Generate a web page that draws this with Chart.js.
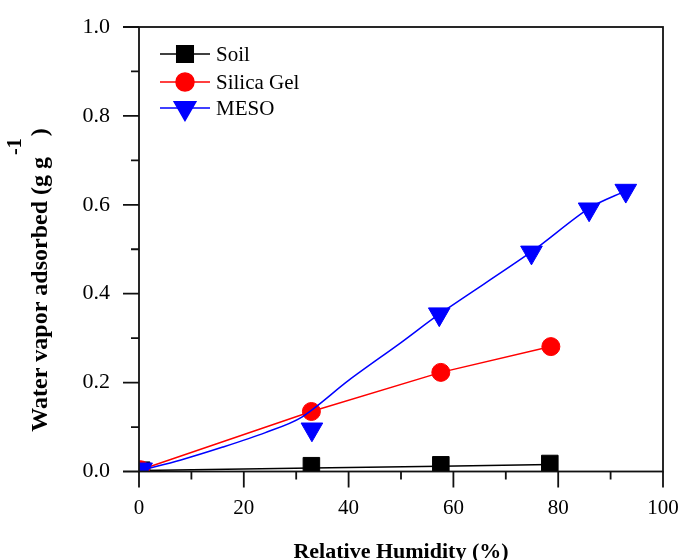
<!DOCTYPE html>
<html>
<head>
<meta charset="utf-8">
<script src="https://cdn.jsdelivr.net/npm/chart.js@4.4.1/dist/chart.umd.min.js"></script>
<style>html,body{margin:0;padding:0;background:#fff}canvas{display:block}</style>
</head>
<body>
<canvas id="c" width="679" height="560"></canvas>
<script>
/* water vapor adsorption isotherms */
const SERIF = "'Liberation Serif', 'Times New Roman', serif";

// measured points
const soilX = [0.5, 32.9, 57.6, 78.4];
const soilY = [0.003, 0.013, 0.015, 0.018];
const silicaX = [0.3, 32.9, 57.6, 78.6];
const silicaY = [0.004, 0.135, 0.223, 0.281];
const mesoX = [0.5, 33.0, 57.3, 74.9, 85.9, 92.9];
const mesoY = [0.005, 0.095, 0.354, 0.493, 0.590, 0.632];

// fitted curves
const soilFitX = [0.5, 33, 57.5, 78.5];
const soilFitY = [0.002, 0.008, 0.012, 0.016];
const silicaFitX = [0.3, 32.9, 57.6, 78.6];
const silicaFitY = [0.004, 0.135, 0.223, 0.281];
const mesoFitX = [0.5, 8, 16, 24, 31, 40, 50, 57.3, 75, 86, 93];
const mesoFitY = [0.003, 0.026, 0.055, 0.087, 0.122, 0.205, 0.29, 0.354, 0.495, 0.593, 0.632];

const xTicks = [0, 20, 40, 60, 80, 100];
const yTicks = [0.0, 0.2, 0.4, 0.6, 0.8, 1.0];

const SERIES = [
  {name:"Soil", color:"#000000", style:"rect", r:11.7, rot:0},
  {name:"Silica Gel", color:"#ff0000", style:"circle", r:9, rot:0},
  {name:"MESO", color:"#0000ff", style:"triangle", r:12.5, rot:180},
];

function pts(xs, ys){ return xs.map((x,i)=>({x, y:ys[i]})); }

function fitSet(xs, ys, s, order, tension){
  return {data:pts(xs,ys), showLine:true, borderColor:s.color, borderWidth:1.5,
    pointRadius:0, tension, order, clip:0};
}
function markSet(xs, ys, s, order){
  return {data:pts(xs,ys), showLine:false, backgroundColor:s.color, borderColor:s.color,
    borderWidth:1, pointStyle:s.style, pointRadius:s.r, pointRotation:s.rot, order, clip:0};
}
function noPad(s){ s.paddingLeft = 0; s.paddingRight = 0; s.paddingTop = 0; s.paddingBottom = 0; }

const extras = {
  id:"extras",
  afterDraw(chart){
    const ctx = chart.ctx, a = chart.chartArea;
    const xs = chart.scales.x, ys = chart.scales.y;
    ctx.save();
    ctx.strokeStyle = "#111";
    ctx.lineWidth = 1.8;
    ctx.strokeRect(a.left, a.top, a.right - a.left, a.bottom - a.top);
    // major / minor ticks
    ctx.beginPath();
    for(let v=0; v<=100; v+=10){
      const px = xs.getPixelForValue(v);
      const len = v % 20 === 0 ? 16 : 8;
      ctx.moveTo(px, a.bottom); ctx.lineTo(px, a.bottom + len);
    }
    for(let k=0; k<=10; k++){
      const py = ys.getPixelForValue(k/10);
      const len = k % 2 === 0 ? 16 : 8;
      ctx.moveTo(a.left, py); ctx.lineTo(a.left - len, py);
    }
    ctx.stroke();

    // legend
    const rows = [54, 82, 108];
    ctx.font = "21px " + SERIF;
    ctx.textBaseline = "middle";
    ctx.textAlign = "left";
    SERIES.forEach((s,i)=>{
      const y = rows[i];
      ctx.strokeStyle = s.color; ctx.lineWidth = 1.5;
      ctx.beginPath(); ctx.moveTo(160, y); ctx.lineTo(210, y); ctx.stroke();
      ctx.fillStyle = s.color;
      Chart.helpers.drawPoint(ctx, {pointStyle:s.style, radius:s.r, rotation:s.rot, borderWidth:1}, 185, y);
      ctx.fillStyle = "#000";
      ctx.fillText(s.name, 216, y + 1);
    });

    // axis titles
    ctx.fillStyle = "#000";
    ctx.font = "bold 22px " + SERIF;
    ctx.textAlign = "center";
    ctx.textBaseline = "alphabetic";
    ctx.fillText("Relative Humidity (%)", (a.left + a.right)/2, 558);

    ctx.translate(41, 280);
    ctx.rotate(-Math.PI/2);
    ctx.textAlign = "left";
    ctx.textBaseline = "middle";
    ctx.font = "bold 24px " + SERIF;
    const p1 = "Water vapor adsorbed (g g", p2 = ")", sup = "-1";
    const w1 = ctx.measureText(p1).width, w2 = ctx.measureText(p2).width;
    ctx.font = "bold 20px " + SERIF;
    const ws = ctx.measureText(sup).width + 4;
    const u0 = -(w1 + ws + w2)/2;
    ctx.fillText(sup, u0 + w1 + 2, -25);
    ctx.font = "bold 24px " + SERIF;
    ctx.fillText(p1, u0, 0);
    ctx.fillText(p2, u0 + w1 + ws, 0);
    ctx.restore();
  }
};

new Chart(document.getElementById("c"), {
  type:"scatter",
  data:{datasets:[
    fitSet(soilFitX, soilFitY, SERIES[0], 6, 0),
    markSet(soilX, soilY, SERIES[0], 5),
    fitSet(silicaFitX, silicaFitY, SERIES[1], 4, 0),
    markSet(silicaX, silicaY, SERIES[1], 3),
    fitSet(mesoFitX, mesoFitY, SERIES[2], 2, 0.3),
    markSet(mesoX, mesoY, SERIES[2], 1),
  ]},
  options:{
    responsive:false, animation:false, devicePixelRatio:1,
    layout:{padding:{top:27, right:16, left:0, bottom:0}},
    plugins:{legend:{display:false}, tooltip:{enabled:false}},
    scales:{
      x:{type:"linear", min:0, max:100,
        grid:{display:false, drawTicks:false}, border:{display:false},
        afterFit(s){ s.height = 88.5; noPad(s); },
        afterBuildTicks(s){ s.ticks = xTicks.map(v=>({value:v})); },
        ticks:{autoSkip:false, maxRotation:0, padding:24, color:"#000",
          font:{family:SERIF, size:21}, callback:v=>String(v)}},
      y:{type:"linear", min:0, max:1,
        grid:{display:false, drawTicks:false}, border:{display:false},
        afterFit(s){ s.width = 139; noPad(s); },
        afterBuildTicks(s){ s.ticks = yTicks.map(v=>({value:v})); },
        ticks:{autoSkip:false, padding:29, color:"#000",
          font:{family:SERIF, size:22}, callback:v=>Number(v).toFixed(1)}},
    },
  },
  plugins:[extras],
});
</script>
</body>
</html>
